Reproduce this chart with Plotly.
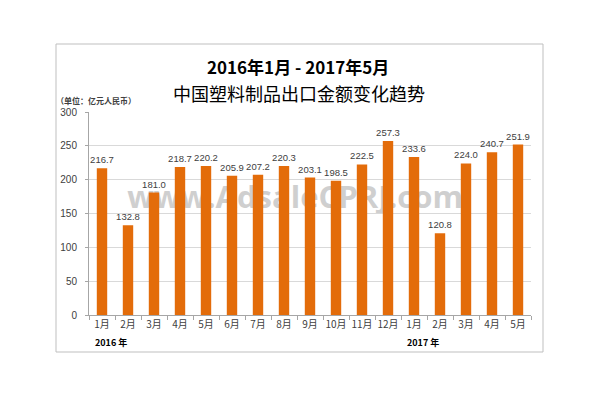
import plotly.graph_objects as go

months = ["1月", "2月", "3月", "4月", "5月", "6月", "7月", "8月", "9月", "10月", "11月", "12月",
          "1月", "2月", "3月", "4月", "5月"]
values = [216.7, 132.8, 181.0, 218.7, 220.2, 205.9, 207.2, 220.3, 203.1, 198.5, 222.5, 257.3,
          233.6, 120.8, 224.0, 240.7, 251.9]
year_labels = ["2016 年", "2017 年"]
year_positions = [0, 12]
y_ticks = [0, 50, 100, 150, 200, 250, 300]

xs = list(range(len(values)))
bar_color = "#E36C0A"
txt_font = "Liberation Sans, Arial, sans-serif"
cjk = "Noto Sans CJK SC"

fig = go.Figure()
fig.add_trace(go.Bar(
    x=xs, y=values, width=0.4, marker=dict(color=bar_color, line=dict(width=0)),
    text=[f"{v:.1f}" for v in values], textposition="outside", constraintext="none",
    textfont=dict(size=9.5, color="#404040", family=txt_font),
    cliponaxis=False, hoverinfo="x+y",
))

L, R, T, B = 89, 69, 112, 83
W, H = 600, 398
pw, ph = W - L - R, H - T - B

def px_x(p):
    return (p - L) / pw

def px_y(p):
    return (H - B - p) / ph

fig.update_layout(
    width=W, height=H,
    margin=dict(l=L, r=R, t=T, b=B, pad=0),
    paper_bgcolor="white", plot_bgcolor="white",
    showlegend=False,
    bargap=0.6,
    xaxis=dict(
        range=[-0.5, len(values) - 0.5],
        tickmode="array", tickvals=xs, ticktext=months,
        ticks="", showgrid=False, zeroline=False,
        showline=True, linecolor="#A6A6A6", linewidth=1,
        tickfont=dict(size=10, color="#404040", family=cjk),
        minor=dict(tickmode="array", tickvals=[i - 0.5 for i in range(len(values) + 1)],
                   ticks="outside", ticklen=4, tickcolor="#A6A6A6", showgrid=False),
        fixedrange=True,
    ),
    yaxis=dict(
        range=[0, 300], tickmode="array", tickvals=y_ticks,
        ticks="outside", ticklen=3, tickcolor="#A6A6A6",
        showgrid=True, gridcolor="#D9D9D9", gridwidth=1,
        zeroline=False, showline=True, linecolor="#A6A6A6", linewidth=1,
        tickfont=dict(size=10, color="#404040", family=txt_font),
        ticklabelstandoff=6,
        fixedrange=True,
    ),
)

# outer chart border
fig.add_shape(type="rect", xref="paper", yref="paper",
              x0=px_x(56), x1=px_x(543), y0=px_y(352), y1=px_y(44),
              line=dict(color="#BFBFBF", width=1), fillcolor="rgba(0,0,0,0)", layer="above")

# watermark behind bars
fig.add_shape(type="rect", xref="paper", yref="paper",
              x0=px_x(130), x1=px_x(460), y0=px_y(212), y1=px_y(184),
              line=dict(width=0), fillcolor="rgba(0,0,0,0)", layer="between",
              label=dict(text="www.AdsaleCPRJ.com",
                         font=dict(size=31, color="#CFCFCF", family="Open Sans, sans-serif",
                                   weight="bold"),
                         textposition="middle center"))

# titles
fig.add_annotation(text="<b>2016年1月 - 2017年5月</b>", xref="paper", yref="paper",
                   x=px_x(298), y=px_y(66), showarrow=False,
                   font=dict(size=17, color="#000000", family=cjk), xanchor="center", yanchor="middle")
fig.add_annotation(text="中国塑料制品出口金额变化趋势", xref="paper", yref="paper",
                   x=px_x(299), y=px_y(93), showarrow=False,
                   font=dict(size=18, color="#000000", family=cjk), xanchor="center", yanchor="middle")
fig.add_annotation(text="<b>（单位：亿元人民币）</b>", xref="paper", yref="paper",
                   x=px_x(54), y=px_y(101), showarrow=False,
                   font=dict(size=8, color="#404040", family=cjk), xanchor="left", yanchor="middle")

for lab, pos in zip(year_labels, year_positions):
    fig.add_annotation(text=f"<b>{lab}</b>", xref="x", yref="paper",
                       x=pos - 0.35, y=px_y(342), showarrow=False,
                       font=dict(size=9, color="#000000", family=cjk), xanchor="left", yanchor="middle")

fig.write_html("out.html", config={"displayModeBar": False},
               post_script="document.body.style.margin='0';")
